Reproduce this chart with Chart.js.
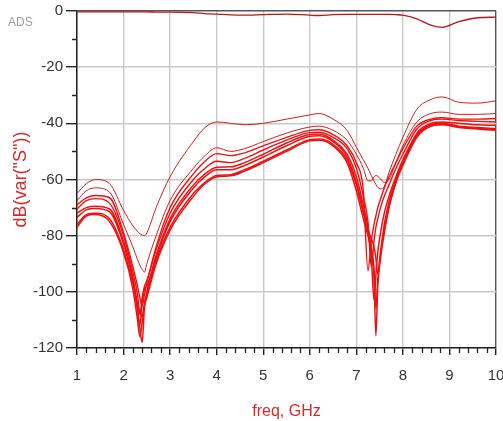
<!DOCTYPE html>
<html>
<head>
<meta charset="utf-8">
<script src="https://cdn.jsdelivr.net/npm/chart.js@4/dist/chart.umd.min.js"></script>
<style>
  body { margin: 0; background: #fff; }
  canvas { display: block; }
</style>
</head>
<body>
<canvas id="plot" width="503" height="421"></canvas>
<script>
// frequency points, GHz
const freq = [1, 1.2, 1.4, 1.7, 2.0, 2.2, 2.3, 2.35, 2.4, 2.45, 2.5, 2.7, 3.0, 3.5, 3.75,
  4.0, 4.3, 4.6, 5.0, 5.5, 6.0, 6.2, 6.5, 6.8, 7.0, 7.15, 7.25, 7.32, 7.38, 7.42,
  7.46, 7.52, 7.6, 7.7, 7.85, 8.0, 8.3, 8.6, 8.85, 9.2, 9.6, 10];

// dB values for each trace
const s11 = [-0.3, -0.3, -0.3, -0.3, -0.3, -0.3, -0.3, -0.3, -0.3, -0.3, -0.3, -0.4, -0.4, -0.6, -0.9,
  -1.1, -1.4, -1.5, -1.3, -1.1, -1.5, -1.6, -1.3, -1.2, -1.2, -1.2, -1.2, -1.2, -1.2, -1.2,
  -1.2, -1.2, -1.2, -1.2, -1.3, -1.5, -2.8, -5.0, -5.8, -3.8, -2.4, -2.2];
const c1 = [-65, -61.5, -60, -61.5, -71, -76.5, -78.5, -79.3, -79.8, -80, -79, -70, -59, -46.5, -41.5,
  -39.5, -40, -40.5, -40, -38.5, -37, -36.5, -38.5, -42.5, -48.5, -53, -56, -58.5, -60.5, -61.8,
  -62.8, -63.3, -62.5, -57.5, -51, -45, -35, -31.5, -30.6, -32.5, -32.8, -32];
const c2 = [-67.5, -64, -63, -64.5, -76, -84, -88.5, -90.5, -92, -93, -90, -80, -67.5, -56, -51.5,
  -48.7, -50, -49, -46.5, -43.5, -41.3, -41, -42.5, -46, -51, -56, -60.5, -60.5, -59, -58.6,
  -58.8, -59.8, -61, -60, -54, -48, -39.5, -36.5, -36, -36.8, -36.8, -36.5];
const c3 = [-69, -66.5, -65.7, -66.5, -79, -91, -98, -102, -105, -101, -97, -84, -70, -58, -53.5,
  -50.8, -51.5, -50.5, -48, -45, -42.5, -42.3, -44, -48, -54, -64, -92.5, -82, -76, -73,
  -70, -67, -63, -59, -54, -49, -41, -38.5, -38, -38.5, -38.5, -38.3];
const c4 = [-70.5, -67.5, -66.8, -68.5, -80, -93, -101, -108, -102, -98, -96, -85, -72, -60, -56,
  -53.5, -54, -52.5, -49.5, -46, -43.3, -43.2, -45, -49, -56, -66, -75, -91, -82, -77,
  -74, -70, -66, -62, -56, -51, -42, -39, -38.5, -39, -39.3, -39.5];
const c5 = [-72, -70, -69.5, -70.5, -82, -95, -105, -112, -104, -99, -98, -87, -74, -62, -58,
  -55.6, -55.5, -54, -51, -47, -44, -43.8, -46, -51, -59, -69, -77, -84, -95, -115.7,
  -98, -88, -79, -70, -61, -54, -43.5, -40, -39.5, -40, -40.5, -40.7];
const c6 = [-73.5, -70.8, -70.3, -71.5, -83, -96, -107, -113, -118, -105, -100, -88, -75, -63, -59,
  -56.5, -56.5, -55, -52, -48, -44.6, -44.4, -46.5, -52, -61, -71, -79, -87, -103, -94,
  -86, -79, -72, -66, -59, -53, -44, -40.5, -40, -41, -41.5, -41.9];
const c7 = [-76, -72.5, -72, -74, -85, -97, -104, -107, -109, -104, -101, -89, -77, -65, -61,
  -58.6, -58.3, -56.5, -53.5, -49.5, -45.8, -45.6, -47.5, -53, -62, -72, -78, -81, -84, -88,
  -93.6, -86, -78, -70, -61, -55, -45, -41, -40.5, -41.5, -42, -42.5];
const c8 = [-77, -73, -72.5, -75, -86, -99, -110, -116, -111, -105, -102, -90, -78, -66, -61.5,
  -59, -58.7, -57, -54, -50, -46.2, -46, -48, -54, -64, -74, -80, -85, -92, -106,
  -96, -86, -76, -68, -60, -54, -44.5, -41, -40.3, -41.2, -41.8, -42.3];

const xTicks = [1, 2, 3, 4, 5, 6, 7, 8, 9, 10];
const yTicks = [-120, -100, -80, -60, -40, -20, 0];

const fam = "'Liberation Sans Narrow', 'Liberation Sans', Arial";
const labelFont = { family: fam, size: 15 };

const toPoints = (vals) => freq.map((f, i) => ({ x: f, y: vals[i] }));

const trace = (vals, color, width) => ({
  data: toPoints(vals),
  borderColor: color,
  borderWidth: width,
  pointRadius: 0,
  fill: false,
  cubicInterpolationMode: "monotone",
});

// short ticks between the labelled ones, plus the ADS tag
const minorTicks = {
  id: "minorTicks",
  afterDraw(chart) {
    const { ctx, scales } = chart;
    const xs = scales.x, ys = scales.y;
    ctx.save();
    ctx.strokeStyle = "#222";
    ctx.lineWidth = 1.3;
    ctx.beginPath();
    for (let k = 1; k < 46; k++) {
      if (k % 5 === 0) continue;
      const px = Math.round(xs.getPixelForValue(1 + k * 0.2)) + 0.5;
      ctx.moveTo(px, ys.bottom);
      ctx.lineTo(px, ys.bottom + 5);
    }
    for (let v = -110; v < 0; v += 20) {
      const py = Math.round(ys.getPixelForValue(v)) + 0.5;
      ctx.moveTo(xs.left - 5, py);
      ctx.lineTo(xs.left, py);
    }
    ctx.stroke();
    ctx.fillStyle = "#9a9a9a";
    ctx.font = "12px " + fam;
    ctx.textBaseline = "middle";
    ctx.fillText("ADS", 8, 23);
    ctx.restore();
  },
};

new Chart(document.getElementById("plot"), {
  type: "line",
  data: {
    datasets: [
      trace(s11, "#b81818", 1.3),
      trace(c1, "#d01c1c", 1),
      trace(c2, "#d01c1c", 1),
      trace(c3, "#ee1111", 1.4),
      trace(c4, "#ee1111", 1.4),
      trace(c5, "#ee1111", 1.5),
      trace(c6, "#ee1111", 1.5),
      trace(c7, "#ee1111", 1.5),
      trace(c8, "#ee1111", 1.5),
    ],
  },
  options: {
    responsive: false,
    animation: false,
    layout: { padding: { top: 11, right: 7, left: 0, bottom: 0 } },
    plugins: { legend: { display: false }, tooltip: { enabled: false } },
    scales: {
      x: {
        type: "linear",
        min: 1,
        max: 10,
        afterBuildTicks: (s) => { s.ticks = xTicks.map((v) => ({ value: v })); },
        afterFit: (s) => { s.height = 73; s.paddingRight = 0; s.paddingLeft = 0; },
        ticks: { color: "#333", font: labelFont, padding: 12, maxRotation: 0, autoSkip: false },
        grid: {
          color: (c) => (c.tick && c.tick.value === 10 ? "#555" : "#c9c9c9"),
          lineWidth: 1.4,
          tickLength: 7,
          tickColor: "#222",
        },
        border: { color: "#222", width: 1.5 },
        title: {
          display: true,
          text: "freq, GHz",
          color: "#d42a2a",
          font: { family: fam, size: 16 },
          padding: { top: 2, bottom: 0 },
        },
      },
      y: {
        min: -120,
        max: 0,
        afterBuildTicks: (s) => { s.ticks = yTicks.map((v) => ({ value: v })); },
        afterFit: (s) => { s.width = 77; s.paddingTop = 0; s.paddingBottom = 0; },
        ticks: { color: "#333", font: labelFont, padding: 3 },
        grid: {
          color: (c) => (c.tick && c.tick.value === 0 ? "#555" : "#c9c9c9"),
          lineWidth: 1.4,
          tickLength: 11,
          tickColor: "#222",
        },
        border: { color: "#222", width: 1.5 },
        title: {
          display: true,
          text: 'dB(var("S"))',
          color: "#d42a2a",
          font: { family: fam, size: 18 },
          padding: { top: 10, bottom: 0 },
        },
      },
    },
  },
  plugins: [minorTicks],
});
</script>
</body>
</html>
